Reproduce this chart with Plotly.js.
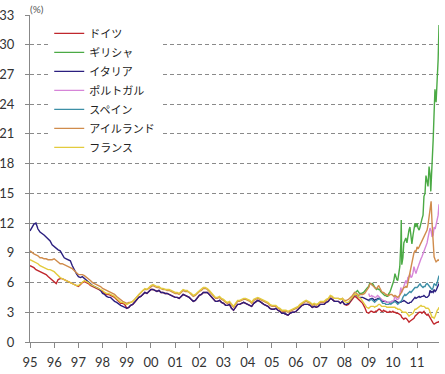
<!DOCTYPE html>
<html><head><meta charset="utf-8">
<script src="https://cdn.plot.ly/plotly-3.0.1.min.js"></script>
<style>html,body{margin:0;padding:0;background:#fff}#chart{width:445px;height:374px}</style>
</head><body><div id="chart"></div>
<script>
// ---- series names & colours ----
const names = ['ドイツ','ギリシャ','イタリア','ポルトガル','スペイン','アイルランド','フランス'];

// ---- monthly values Jan 1995 - Dec 2008 (long series) ----
const gerA = [
7.7,7.6,7.5,7.3,7.2,7.1,7.0,6.9,6.8,6.6,6.4,6.2,
6.0,5.9,6.3,6.4,6.4,6.3,6.2,6.1,6.0,5.9,5.8,5.7,
5.6,5.8,6.0,6.1,6.0,5.9,5.7,5.6,5.5,5.4,5.3,5.2,
5.1,4.9,4.8,4.8,4.7,4.6,4.5,4.3,4.1,3.9,3.9,3.8,
3.4,3.5,3.7,3.8,4.0,4.3,4.5,4.6,4.8,5.0,4.9,5.1,
5.3,5.3,5.2,5.1,5.2,5.0,5.0,4.9,4.9,4.8,4.7,4.6,
4.5,4.5,4.4,4.6,4.8,4.7,4.6,4.5,4.3,4.1,4.2,4.5,
4.7,4.8,5.0,5.0,5.0,4.8,4.6,4.3,4.1,4.1,4.2,4.0,
3.9,3.7,3.7,3.8,3.4,3.2,3.5,3.8,3.8,3.9,4.0,3.9,
3.8,3.7,3.6,3.9,4.1,4.2,4.1,3.9,3.8,3.7,3.6,3.4,
3.3,3.3,3.4,3.2,3.1,2.9,2.9,2.8,2.7,2.9,3.0,3.0,
3.1,3.3,3.5,3.7,3.8,3.8,3.8,3.7,3.5,3.6,3.5,3.6,
3.8,3.8,3.8,4.0,4.1,4.4,4.3,4.1,4.1,4.1,3.9,4.1,
3.8,3.7,3.8,4.1,4.4,4.6,4.5,4.3,4.1,3.9,3.5,3.0];
const itaA = [
11.2,11.5,11.9,12.0,11.4,11.1,10.9,10.8,10.6,10.4,10.2,9.8,
9.6,9.4,9.3,9.2,8.8,8.5,8.4,8.3,8.2,7.7,7.2,6.9,
6.6,6.5,6.6,6.4,6.2,6.0,5.8,5.7,5.6,5.5,5.4,5.2,
4.9,4.8,4.6,4.5,4.5,4.3,4.1,4.0,3.8,3.7,3.6,3.5,
3.4,3.5,3.7,3.8,4.0,4.3,4.5,4.6,4.8,5.0,4.9,5.1,
5.3,5.3,5.2,5.1,5.2,5.0,5.0,4.9,4.9,4.8,4.7,4.6,
4.5,4.5,4.4,4.6,4.8,4.7,4.6,4.5,4.3,4.1,4.2,4.5,
4.7,4.8,5.0,5.0,5.0,4.8,4.6,4.3,4.1,4.1,4.2,4.0,
3.9,3.7,3.7,3.8,3.4,3.2,3.5,3.8,3.8,3.9,4.0,3.9,
3.8,3.7,3.6,3.9,4.1,4.2,4.1,3.9,3.8,3.7,3.6,3.4,
3.3,3.3,3.4,3.2,3.1,2.9,2.9,2.8,2.7,2.9,3.0,3.0,
3.1,3.3,3.5,3.7,3.8,3.8,3.8,3.7,3.5,3.6,3.5,3.6,
3.8,3.8,3.8,4.0,4.1,4.4,4.3,4.1,4.1,4.1,3.9,4.1,
3.8,3.8,3.9,4.2,4.5,4.8,4.7,4.5,4.5,4.5,4.4,4.3];
const fraA = [
8.3,8.2,8.1,8.0,7.9,7.7,7.6,7.5,7.4,7.3,7.3,7.2,
7.1,6.9,6.7,6.5,6.4,6.3,6.2,6.1,6.0,5.9,5.8,5.7,
5.7,5.9,6.1,6.2,6.1,6.0,5.8,5.7,5.6,5.5,5.4,5.3,
5.2,5.0,4.9,4.9,4.8,4.7,4.6,4.4,4.2,4.0,4.0,3.9,
3.8,3.9,4.0,4.1,4.3,4.6,4.8,5.0,5.2,5.4,5.3,5.5,
5.7,5.8,5.7,5.6,5.6,5.4,5.4,5.3,5.3,5.3,5.2,5.1,
5.0,5.0,4.9,5.1,5.3,5.2,5.2,5.0,4.9,4.7,4.8,5.0,
5.2,5.3,5.5,5.5,5.4,5.2,5.0,4.7,4.5,4.5,4.6,4.4,
4.3,4.1,4.0,4.1,3.8,3.6,3.9,4.2,4.2,4.3,4.4,4.4,
4.3,4.2,4.0,4.3,4.4,4.5,4.4,4.3,4.2,4.1,4.0,3.8,
3.7,3.7,3.7,3.5,3.4,3.2,3.2,3.2,3.1,3.2,3.3,3.4,
3.5,3.6,3.8,4.0,4.1,4.2,4.1,4.0,3.8,3.9,3.8,3.9,
4.1,4.1,4.1,4.3,4.4,4.7,4.6,4.4,4.4,4.4,4.3,4.4,
4.1,4.0,4.0,4.3,4.5,4.8,4.8,4.5,4.4,4.1,3.8,3.5];
const irlA = [
9.2,9.0,8.9,8.8,8.7,8.5,8.5,8.4,8.4,8.3,8.3,8.3,
8.4,8.2,8.0,7.9,7.9,7.8,7.7,7.6,7.5,7.4,7.2,7.0,
6.8,6.8,6.8,6.7,6.5,6.3,6.2,6.0,5.9,5.8,5.7,5.6,
5.4,5.3,5.2,5.1,5.0,4.9,4.8,4.6,4.4,4.2,4.1,4.0,
3.9,4.0,4.0,4.1,4.3,4.6,4.8,5.0,5.2,5.3,5.3,5.4,
5.6,5.7,5.6,5.5,5.5,5.4,5.3,5.3,5.2,5.2,5.1,5.0,
4.9,4.9,4.8,5.0,5.2,5.1,5.1,5.0,4.8,4.6,4.7,4.9,
5.1,5.2,5.4,5.4,5.3,5.1,4.9,4.6,4.4,4.4,4.5,4.3,
4.2,4.0,3.9,4.0,3.7,3.5,3.8,4.1,4.1,4.2,4.3,4.3,
4.2,4.1,3.9,4.2,4.3,4.4,4.3,4.2,4.1,4.0,3.9,3.7,
3.6,3.6,3.6,3.4,3.3,3.1,3.1,3.1,3.0,3.1,3.2,3.3,
3.4,3.5,3.7,3.9,4.0,4.1,4.0,3.9,3.7,3.8,3.7,3.8,
4.0,4.0,4.0,4.2,4.3,4.6,4.5,4.4,4.4,4.4,4.3,4.4,
4.2,4.2,4.3,4.5,4.7,5.0,4.9,4.7,4.8,4.8,4.9,5.2];

// ---- half-monthly values 1 Jan 2009 - 28 Nov 2011 ----
const gerB = [
2.9,3.0,3.1,3.1,3.0,3.0,3.0,3.1,3.1,3.2,3.3,3.3,3.2,3.1,3.1,3.2,3.1,3.1,3.0,3.0,3.0,3.1,3.0,3.0,
3.1,3.0,3.0,2.9,2.9,2.9,2.8,2.8,2.7,2.5,2.4,2.3,2.4,2.4,2.3,2.1,2.0,2.1,2.2,2.2,2.3,2.4,2.6,2.7,
2.8,2.9,3.0,3.0,3.0,2.9,3.0,3.1,2.9,2.8,2.7,2.8,2.6,2.5,2.2,2.0,1.9,1.8,1.9,1.9,2.0,2.0,2.1];
const itaB = [
4.2,4.3,4.4,4.4,4.4,4.3,4.2,4.3,4.3,4.4,4.4,4.4,4.3,4.2,4.1,4.1,4.1,4.1,4.0,4.0,4.0,4.0,4.0,4.1,
4.1,4.1,4.2,4.1,4.0,4.0,4.0,4.0,4.0,4.1,4.1,4.2,4.1,4.1,4.0,3.9,3.9,4.0,4.0,4.1,4.3,4.4,4.5,4.4,
4.5,4.6,4.6,4.5,4.6,4.6,4.6,4.7,4.6,4.5,4.5,4.6,4.7,5.2,5.0,5.1,5.0,5.3,5.1,5.2,5.4,5.7,5.9];
const fraB = [
3.4,3.5,3.6,3.6,3.6,3.6,3.5,3.6,3.6,3.7,3.8,3.8,3.7,3.6,3.6,3.6,3.6,3.6,3.5,3.5,3.5,3.5,3.5,3.5,
3.5,3.5,3.5,3.4,3.4,3.3,3.3,3.3,3.2,3.1,3.0,3.0,3.0,3.0,2.9,2.7,2.6,2.7,2.8,2.8,2.9,3.1,3.3,3.3,
3.4,3.5,3.6,3.7,3.7,3.6,3.6,3.6,3.5,3.4,3.4,3.4,3.3,3.1,2.8,2.5,2.5,2.4,2.6,2.9,3.2,3.3,3.5];
const irlB = [
5.5,5.8,5.9,5.8,5.7,5.6,5.5,5.4,5.4,5.6,5.7,5.5,5.2,5.1,5.0,5.0,4.9,4.8,4.8,4.7,4.7,4.8,4.8,4.8,
4.7,4.6,4.7,4.6,4.5,4.5,4.6,4.7,4.9,5.1,5.3,5.5,5.5,5.6,5.5,6.0,6.5,7.0,7.6,8.2,8.6,9.0,9.2,9.1,
9.6,9.4,9.6,9.8,10.0,10.3,10.6,10.8,11.0,11.1,11.3,11.8,12.5,13.3,14.2,12.0,10.0,8.6,8.3,8.1,8.2,8.3,8.2];
const prtB = [
4.9,4.6,4.6,4.7,4.6,4.6,4.5,4.5,4.6,4.7,4.6,4.5,4.4,4.3,4.2,4.2,4.1,4.1,4.0,4.0,4.0,4.0,4.0,4.1,
4.1,4.2,4.6,4.5,4.3,4.3,4.4,4.8,5.5,5.0,5.3,5.6,5.8,6.2,5.9,6.5,6.6,6.9,6.5,6.6,7.0,7.6,7.2,6.9,
7.3,7.6,7.8,8.1,8.4,8.6,8.9,9.2,9.5,9.7,10.0,10.5,10.9,11.5,11.2,10.6,10.8,11.6,11.4,11.8,12.3,12.8,13.9];
const espB = [
4.1,4.2,4.3,4.3,4.2,4.1,4.0,4.1,4.2,4.3,4.3,4.4,4.2,4.0,3.9,3.9,3.9,3.8,3.8,3.8,3.8,3.9,3.8,3.9,
4.0,4.0,4.1,4.0,3.9,3.8,3.9,4.0,4.1,4.2,4.5,4.6,4.8,4.7,4.8,4.9,5.0,5.1,5.0,5.1,5.3,5.4,5.5,5.5,
5.5,5.6,5.8,5.9,5.7,5.6,5.5,5.6,5.6,5.8,5.9,5.8,5.7,5.6,5.4,5.3,5.5,5.9,5.8,5.7,6.0,6.4,6.7];

// ---- Greece (own dates) ----
const grcDates = [
'2008-06-15','2008-07-15','2008-08-15','2008-09-15','2008-10-15','2008-11-15','2008-12-15',
'2009-01-01','2009-01-15','2009-02-01','2009-02-15','2009-03-01','2009-03-15','2009-04-01','2009-04-15',
'2009-05-01','2009-05-15','2009-06-01','2009-06-15','2009-07-01','2009-07-15','2009-08-01','2009-08-15',
'2009-09-01','2009-09-15','2009-10-01','2009-10-15','2009-11-01','2009-11-15','2009-12-01','2009-12-15',
'2010-01-01','2010-01-15','2010-02-01','2010-02-15','2010-03-01','2010-03-15','2010-04-01','2010-04-15',
'2010-05-01','2010-05-07','2010-05-15','2010-06-01','2010-06-15','2010-07-01','2010-07-15','2010-08-01',
'2010-08-15','2010-09-01','2010-09-15','2010-10-01','2010-10-15','2010-11-01','2010-11-15','2010-12-01','2010-12-15',
'2011-01-01','2011-01-15','2011-02-01','2011-02-15','2011-03-01','2011-03-15','2011-04-01','2011-04-15',
'2011-05-01','2011-05-08','2011-05-15','2011-06-01','2011-06-15','2011-07-01','2011-07-15','2011-07-27',
'2011-08-18','2011-09-01','2011-09-15','2011-09-28','2011-10-15','2011-11-01','2011-11-15','2011-11-28'];
const grcVals = [
5.0,5.2,4.9,4.9,5.0,5.3,5.5,
5.6,5.9,5.9,5.8,5.9,5.7,5.6,5.4,5.3,5.4,5.3,5.3,5.1,5.0,4.8,4.8,4.7,4.7,4.6,4.6,4.9,5.0,5.3,5.6,
5.8,6.2,6.9,6.4,6.3,6.2,7.0,7.6,10.0,12.3,7.8,8.5,10.0,10.3,10.5,10.0,10.8,11.3,11.6,10.6,9.9,10.8,11.6,12.0,11.6,
12.0,11.5,11.3,11.6,12.2,12.4,12.8,14.7,15.0,16.0,16.8,16.2,15.7,17.7,17.0,15.2,18.0,20.4,23.1,25.5,24.2,26.5,28.5,32.0];

const colors = ['#C0272D','#4BAA45','#2B1F7F','#D685D8','#3C8FA6','#D08C4C','#E3CB3D'];

// ---- date axes ----
function monthlyDates(y0, y1){const d=[];for(let y=y0;y<=y1;y++)for(let m=1;m<=12;m++)d.push(y+'-'+String(m).padStart(2,'0')+'-01');return d;}
function halfMonthDates(){const d=[];for(let y=2009;y<=2011;y++)for(let m=1;m<=12;m++){if(y===2011&&m===12)break;const mm=String(m).padStart(2,'0');d.push(y+'-'+mm+'-01');d.push(y+'-'+mm+'-15');}d.push('2011-11-28');return d;}
const datesA = monthlyDates(1995, 2008);
const datesB = halfMonthDates();
const datesAB = datesA.concat(datesB);

const seriesX = [datesAB, grcDates, datesAB, datesB, datesB, datesAB, datesAB];
const seriesY = [gerA.concat(gerB), grcVals, itaA.concat(itaB), prtB, espB, irlA.concat(irlB), fraA.concat(fraB)];

const traces = names.map((n,i)=>({
  type:'scatter', mode:'lines', name:n, x:seriesX[i], y:seriesY[i],
  line:{color:colors[i], width:1.4}
}));

const layout = {
  width:445, height:374,
  margin:{l:30, r:6, t:15, b:32, pad:0},
  paper_bgcolor:'#fff', plot_bgcolor:'#fff',
  font:{family:'Lato, "Liberation Sans", sans-serif', size:13, color:'#333'},
  showlegend:true,
  legend:{x:0.047, y:0.988, xanchor:'left', yanchor:'top', bgcolor:'#fff', borderwidth:0,
          font:{family:'"Noto Sans CJK JP", sans-serif', size:11, color:'#222'}, tracegroupgap:0},
  xaxis:{type:'date', range:['1995-01-01','2011-11-28'], tick0:'1995-01-01', dtick:'M12', tickformat:'%y',
         ticks:'outside', ticklen:5, tickcolor:'#888', showline:true, linecolor:'#888', linewidth:1,
         showgrid:false, zeroline:false, ticklabelstandoff:3, tickfont:{size:13, color:'#333'}},
  yaxis:{range:[0,33], dtick:3, tick0:0, ticks:'outside', ticklen:4, tickcolor:'#888', showline:true,
         linecolor:'#888', linewidth:1, showgrid:true, gridcolor:'#8a8a8a', griddash:'4px,3px', gridwidth:1,
         zeroline:false, ticklabelstandoff:8, tickfont:{size:13, color:'#333'}},
  annotations:[{text:'(%)', xref:'paper', yref:'paper', x:-0.005, y:0.995, xanchor:'left', yanchor:'bottom',
                showarrow:false, font:{size:10, color:'#555'}}]
};
Plotly.newPlot('chart', traces, layout, {staticPlot:true, displayModeBar:false});
</script></body></html>
